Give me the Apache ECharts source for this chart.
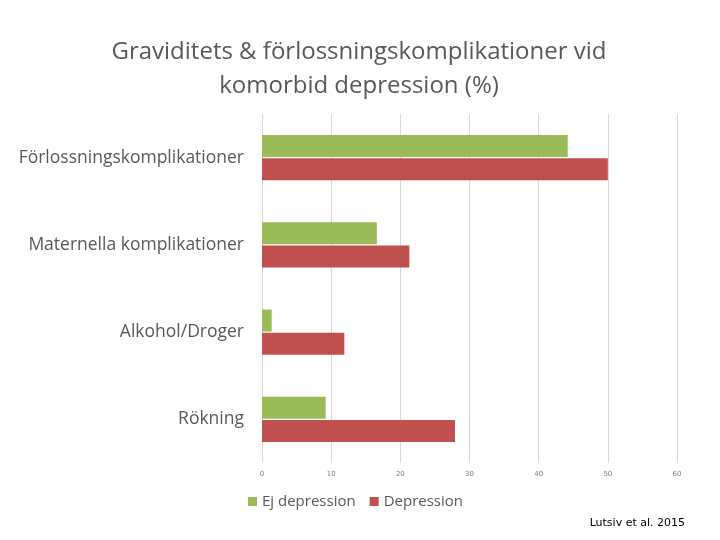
<!DOCTYPE html>
<html>
<head>
<meta charset="utf-8">
<script src="https://cdn.jsdelivr.net/npm/echarts@6/dist/echarts.min.js"></script>
<style>html,body{margin:0;padding:0;background:#fff}#c{width:720px;height:540px}</style>
</head>
<body>
<div id="c"></div>
<script>
var categories = ['Förlossningskomplikationer', 'Maternella komplikationer', 'Alkohol/Droger', 'Rökning'];
var ejDepression = [44.2, 16.6, 1.4, 9.2];
var depression = [50.0, 21.3, 11.9, 27.9];
var seriesNames = ['Ej depression', 'Depression'];
var xTicks = [0, 10, 20, 30, 40, 50, 60];

var chart = echarts.init(document.getElementById('c'));
chart.setOption({
  animation: false,
  backgroundColor: '#fff',
  title: {
    text: 'Graviditets & förlossningskomplikationer vid\nkomorbid depression (%)',
    left: 354, top: 30, textAlign: 'center',
    textStyle: { color: '#595959', fontSize: 24, fontWeight: 'normal', fontFamily: 'Open Sans', lineHeight: 34 }
  },
  legend: {
    data: seriesNames,
    left: 243, top: 489,
    icon: 'rect', itemWidth: 9, itemHeight: 9, itemGap: 14,
    textStyle: { color: '#595959', fontSize: 15, fontFamily: 'Open Sans' }
  },
  grid: { left: 262, right: 43, top: 114, bottom: 77, containLabel: false },
  xAxis: {
    type: 'value', min: 0, max: 60, interval: 10,
    axisLine: { show: false }, axisTick: { show: false },
    splitLine: { lineStyle: { color: '#D9D9D9', width: 1 } },
    axisLabel: { color: '#7f7f7f', fontSize: 7, margin: 8, fontFamily: 'DejaVu Sans',
      formatter: function (v) { return xTicks.indexOf(v) >= 0 ? String(v) : ''; } }
  },
  yAxis: {
    type: 'category', data: categories, inverse: true,
    axisLine: { show: false }, axisTick: { show: false },
    axisLabel: { color: '#595959', fontSize: 17.5, margin: 18, fontFamily: 'Open Sans' }
  },
  series: [
    { name: seriesNames[0], type: 'bar', data: ejDepression, barWidth: 22, barGap: '5%', itemStyle: { color: '#9BBB59' } },
    { name: seriesNames[1], type: 'bar', data: depression, barWidth: 22, barGap: '5%', itemStyle: { color: '#C0504D' } }
  ],
  graphic: [{
    type: 'text', right: 35, top: 518,
    style: { text: 'Lutsiv et al. 2015', fill: '#000', fontSize: 11, fontFamily: 'DejaVu Sans' }
  }]
});
</script>
</body>
</html>
